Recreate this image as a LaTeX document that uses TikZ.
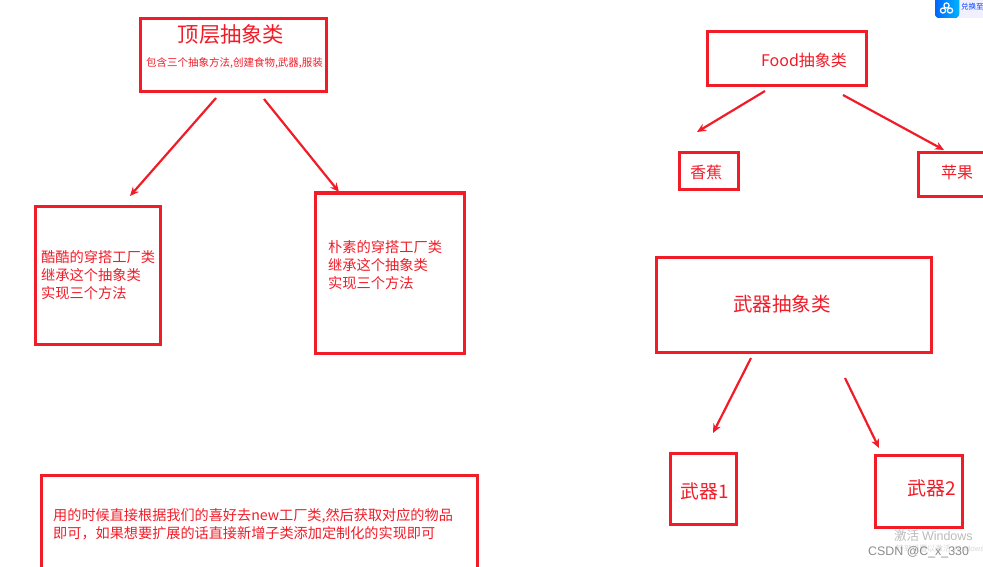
\documentclass[tikz,border=0pt]{standalone}
\usepackage{fontspec}
\setmainfont{Noto Sans CJK SC}
\newfontfamily\latinfont{Liberation Sans}
\usetikzlibrary{arrows.meta}

\begin{document}
\begin{tikzpicture}[x=1pt, y=-1pt,
	redbox/.style={draw=boxred, line width=3pt, rectangle, inner sep=0pt},
	redtext/.style={text=boxred, inner sep=0pt, align=left, font=\fontsize{14.25}{18}\selectfont},
	redarrow/.style={draw=boxred, line width=2.2pt, -{Stealth[length=9pt, width=8pt]}},
	marktext/.style={text=markgray, inner sep=0pt}]
	\definecolor{boxred}{HTML}{F01C28}
	\definecolor{markgray}{HTML}{8C8C8C}
	\clip (0, 0) rectangle (983, 567);

	% Boxes
	\node[redbox, minimum width=186pt, minimum height=73pt] (top) at (233, 55) {};
	\node[redbox, minimum width=125pt, minimum height=138pt] (cool) at (97.5, 275) {};
	\node[redbox, minimum width=149pt, minimum height=160pt] (plain) at (389.5, 273) {};
	\node[redbox, minimum width=436pt, minimum height=125pt] (usage) at (259, 537.5) {};
	\node[redbox, minimum width=159pt, minimum height=54pt] (food) at (786.5, 59) {};
	\node[redbox, minimum width=59pt, minimum height=37pt] (banana) at (708.5, 171.5) {};
	\node[redbox, minimum width=82pt, minimum height=43pt] (apple) at (959, 174.5) {};
	\node[redbox, minimum width=275pt, minimum height=95pt] (weapon) at (793.5, 304.5) {};
	\node[redbox, minimum width=66pt, minimum height=71pt] (weaponA) at (703, 488.5) {};
	\node[redbox, minimum width=87pt, minimum height=72pt] (weaponB) at (918.5, 491) {};

	% Labels
	\node[redtext, font=\fontsize{21.3}{25}\selectfont] (toptitle) at (231, 34) {顶层抽象类};
	\node[redtext, font=\fontsize{10.5}{12}\selectfont] (topnote) at (234.5, 63) {包含三个抽象方法,创建食物,武器,服装};
	\node[redtext, anchor=west] (cooltext) at (41, 275) {酷酷的穿搭工厂类\\继承这个抽象类\\实现三个方法};
	\node[redtext, anchor=west] (plaintext) at (328, 265) {朴素的穿搭工厂类\\继承这个抽象类\\实现三个方法};
	\node[redtext, anchor=west, font=\fontsize{14.15}{18}\selectfont] (usagetext) at (53, 524) {用的时候直接根据我们的喜好去new工厂类,然后获取对应的物品\\即可，如果想要扩展的话直接新增子类添加定制化的实现即可};
	\node[redtext, font=\fontsize{16}{18}\selectfont] (foodtext) at (804, 60) {Food抽象类};
	\node[redtext, font=\fontsize{16}{18}\selectfont] (bananatext) at (706, 172) {香蕉};
	\node[redtext, font=\fontsize{16}{18}\selectfont] (appletext) at (957, 172) {苹果};
	\node[redtext, font=\fontsize{19.5}{22}\selectfont] (weapontext) at (782, 304) {武器抽象类};
	\node[redtext, font=\fontsize{18.8}{22}\selectfont] (weaponAtext) at (705, 491) {武器1};
	\node[redtext, font=\fontsize{19}{22}\selectfont] (weaponBtext) at (932, 488) {武器2};

	% Arrow ends
	\coordinate (a1) at (216, 98);
	\coordinate (a2) at (130, 196);
	\coordinate (b1) at (264, 99);
	\coordinate (b2) at (339, 192);
	\coordinate (c1) at (765, 91);
	\coordinate (c2) at (697, 132);
	\coordinate (d1) at (843, 95);
	\coordinate (d2) at (944, 150);
	\coordinate (e1) at (751, 358);
	\coordinate (e2) at (713, 433);
	\coordinate (f1) at (845, 378);
	\coordinate (f2) at (879, 448);

	% Connections
	\draw[redarrow] (a1) -- (a2);
	\draw[redarrow] (b1) -- (b2);
	\draw[redarrow] (c1) -- (c2);
	\draw[redarrow] (d1) -- (d2);
	\draw[redarrow] (e1) -- (e2);
	\draw[redarrow] (f1) -- (f2);

	% Badge, top right
	\fill[blue!6] (955, 0) rectangle (983, 18);
	\fill[left color=blue!60!cyan, right color=cyan!70!blue, rounded corners=4pt] (935, -6) rectangle (959, 18);
	\foreach \cx/\cy in {946.5/5.5, 943/10.5, 950/10.5}
		\draw[white, line width=1.2pt] (\cx, \cy) circle (2.6pt);
	\node[text=blue!75!cyan, inner sep=0pt, anchor=west, font=\fontsize{7.5}{9}\selectfont] (badge) at (961, 7) {兑换至};

	% Watermarks
	\node[marktext, anchor=west, text=markgray!60, font=\fontsize{12.5}{14}\selectfont] (activate) at (894, 536) {激活 \latinfont Windows};
	\node[marktext, anchor=west, text=markgray!35, font=\fontsize{7.8}{10}\selectfont] (settings) at (896, 549) {转到设置以激活 \latinfont Windows};
	\node[marktext, anchor=west, font=\fontsize{12.4}{14}\selectfont] (csdn) at (868, 552) {\latinfont CSDN @C\_x\_330};
\end{tikzpicture}
\end{document}
